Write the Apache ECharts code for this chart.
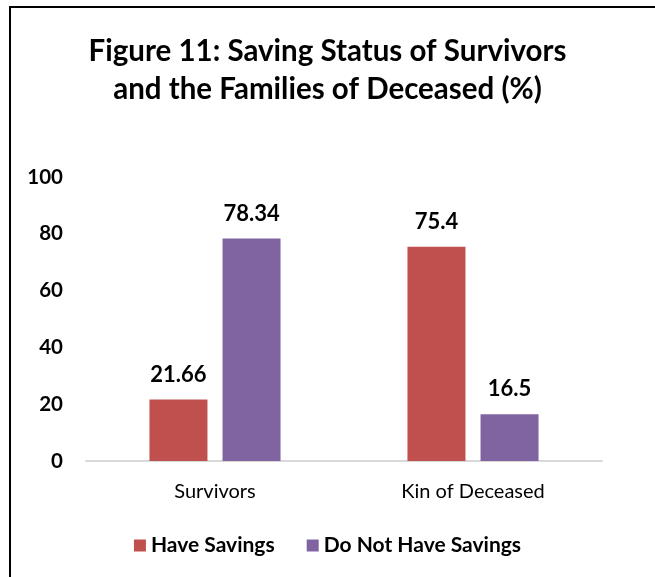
<!DOCTYPE html>
<html><head><meta charset="utf-8">
<script src="https://cdn.jsdelivr.net/npm/echarts@6/dist/echarts.min.js"></script>
<style>html,body{margin:0;padding:0;background:#fff}#c{width:655px;height:577px}</style>
</head><body><div id="c"></div>
<script>
const categories = ['Survivors', 'Kin of Deceased'];
const haveSavings = [21.66, 75.4];
const noSavings = [78.34, 16.5];
const seriesNames = ['Have Savings', 'Do Not Have Savings'];
const titleLines = ['Figure 11: Saving Status of Survivors', 'and the Families of Deceased (%)'];

const FONT = 'Lato, "Open Sans", sans-serif';
const chart = echarts.init(document.getElementById('c'));
const labelOpt = {show: true, position: 'top', distance: 14, color: '#000', fontWeight: 'bold', fontSize: 22, fontFamily: FONT};
chart.setOption({
  animation: false,
  title: {text: titleLines.join('\n'), left: 'center', top: 27, textStyle: {fontFamily: FONT, fontWeight: 'bold', fontSize: 29.5, lineHeight: 38, color: '#000'}},
  grid: {left: 86, right: 53, top: 177, bottom: 116},
  legend: {top: 530, left: 'center', itemWidth: 12, itemHeight: 12, itemGap: 32, icon: 'rect',
    textStyle: {fontFamily: FONT, fontWeight: 'bold', fontSize: 21, color: '#000'}, data: seriesNames},
  xAxis: {type: 'category', data: categories, axisTick: {show: false},
    axisLine: {lineStyle: {color: '#d9d9d9', width: 2}},
    axisLabel: {margin: 21, fontFamily: FONT, fontSize: 20, color: '#000'}},
  yAxis: {type: 'value', min: 0, max: 100, interval: 20, splitLine: {show: false}, axisLine: {show: false},
    axisLabel: {margin: 23, fontFamily: FONT, fontSize: 20.5, fontWeight: 'bold', color: '#000'}},
  series: [
    {name: seriesNames[0], type: 'bar', data: haveSavings, barWidth: 58, barGap: '26%', itemStyle: {color: '#C0504D'}, label: labelOpt},
    {name: seriesNames[1], type: 'bar', data: noSavings, barWidth: 58, itemStyle: {color: '#8064A2'}, label: labelOpt}
  ],
  graphic: [
    {type: 'line', shape: {x1: 9, y1: 7, x2: 655, y2: 7}, style: {stroke: '#000', lineWidth: 2}},
    {type: 'line', shape: {x1: 10, y1: 7, x2: 10, y2: 577}, style: {stroke: '#000', lineWidth: 2}}
  ]
});
</script></body></html>
